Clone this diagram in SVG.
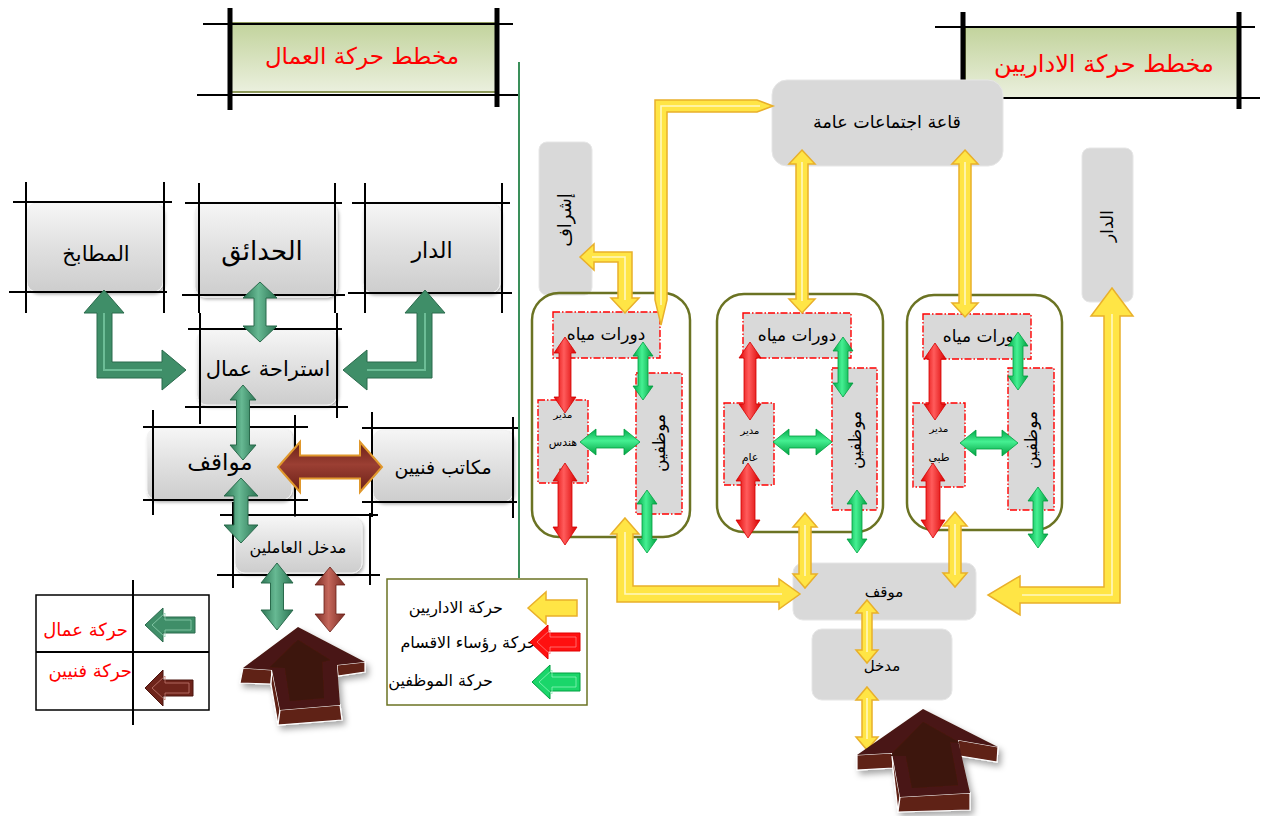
<svg xmlns="http://www.w3.org/2000/svg" width="1263" height="816" viewBox="0 0 1263 816">
<style>
text{font-family:"DejaVu Sans","Noto Sans",sans-serif;fill:#000;}
.red{fill:#ff0000;}
.frame{stroke:#000;stroke-width:2;fill:none;}
.thick{stroke:#000;stroke-width:5;fill:none;}
.gloss{fill:url(#gGloss);stroke:#f2f2f2;stroke-width:1;filter:url(#sh);}
.flat{fill:#d9d9d9;stroke:#e6e6e6;stroke-width:1;}
.cont{fill:none;stroke:#6b7323;stroke-width:2.5;}
.dash{fill:#d9d9d9;stroke:#ff0000;stroke-width:1.4;stroke-dasharray:7 2 1.5 2;}
.dg{fill:url(#gDG);stroke:#2a6a4c;stroke-width:1;}
.dgs{fill:#3f8e68;stroke:#2a6a4c;stroke-width:1;}
.rd{fill:url(#gRed);stroke:#d40000;stroke-width:0.8;}
.gr{fill:url(#gGrn);stroke:#00a040;stroke-width:0.8;}
.grh{fill:url(#gGrnH);stroke:#00a040;stroke-width:0.8;}
.yl{fill:#ffe545;stroke:#e9b02a;stroke-width:1.5;}
.ylc{fill:none;stroke:#fff8c0;stroke-width:1.6;}
.br3{fill:#4a1812;}
.br3s{fill:#5e2219;stroke:#ffffff;stroke-width:1.2;}
</style>
<defs>
<filter id="sh" x="-10%" y="-10%" width="130%" height="140%"><feDropShadow dx="1.5" dy="2" stdDeviation="1.5" flood-color="#000" flood-opacity="0.3"/></filter>
<filter id="sh2" x="-20%" y="-20%" width="150%" height="150%"><feDropShadow dx="3" dy="4" stdDeviation="3" flood-color="#000" flood-opacity="0.35"/></filter>
<linearGradient id="gGloss" x1="0" y1="0" x2="0" y2="1"><stop offset="0" stop-color="#f6f6f6"/><stop offset="0.5" stop-color="#e0e0e0"/><stop offset="1" stop-color="#cdcdcd"/></linearGradient>
<linearGradient id="gTitle" x1="0" y1="0" x2="0" y2="1"><stop offset="0" stop-color="#c2d39c"/><stop offset="1" stop-color="#ebf0de"/></linearGradient>
<linearGradient id="gDG" x1="0" y1="0" x2="1" y2="0"><stop offset="0" stop-color="#2b7453"/><stop offset="0.45" stop-color="#67b993"/><stop offset="1" stop-color="#2b7453"/></linearGradient>
<linearGradient id="gBrH" x1="0" y1="0" x2="0" y2="1"><stop offset="0" stop-color="#6a2017"/><stop offset="0.45" stop-color="#9b3f33"/><stop offset="1" stop-color="#6a2017"/></linearGradient>
<linearGradient id="gBrV" x1="0" y1="0" x2="1" y2="0"><stop offset="0" stop-color="#7a2a22"/><stop offset="0.45" stop-color="#c4675b"/><stop offset="1" stop-color="#7a2a22"/></linearGradient>
<linearGradient id="gRed" x1="0" y1="0" x2="1" y2="0"><stop offset="0" stop-color="#e00000"/><stop offset="0.45" stop-color="#ff5c5c"/><stop offset="1" stop-color="#d80000"/></linearGradient>
<linearGradient id="gGrn" x1="0" y1="0" x2="1" y2="0"><stop offset="0" stop-color="#00a848"/><stop offset="0.45" stop-color="#45f092"/><stop offset="1" stop-color="#00a040"/></linearGradient>
<linearGradient id="gGrnH" x1="0" y1="0" x2="0" y2="1"><stop offset="0" stop-color="#00a848"/><stop offset="0.45" stop-color="#45f092"/><stop offset="1" stop-color="#00a040"/></linearGradient>
</defs>
<rect width="1263" height="816" fill="#ffffff"/>

<!-- divider -->
<line x1="519" y1="62" x2="519" y2="578" stroke="#3a8f5a" stroke-width="2"/>

<!-- LEFT TITLE -->
<g id="title-workers">
<rect x="230" y="23" width="267" height="69" fill="url(#gTitle)" stroke="#6b7a2a" stroke-width="1.5"/>
<path class="frame" d="M203,24 H513 M197,95 H518"/>
<path class="thick" d="M230,8 V110 M497,8 V107"/>
<text class="red" x="362" y="64" font-size="23" text-anchor="middle">مخطط حركة العمال</text>
</g>

<!-- LEFT NODES -->
<g id="node-kitchens">
<rect class="gloss" x="27" y="203" width="136" height="89" rx="10"/>
<path class="frame" d="M13,202 H172 M9,292 H167 M26,182 V313 M164,182 V313"/>
<text x="96" y="261" font-size="21" text-anchor="middle">المطابخ</text>
</g>
<g id="node-gardens">
<rect class="gloss" x="195" y="203" width="142" height="94" rx="10"/>
<path class="frame" d="M185,203 H342 M182,295 H345 M199,183 V313 M335,183 V313"/>
<text x="262" y="260" font-size="26" text-anchor="middle">الحدائق</text>
</g>
<g id="node-house">
<rect class="gloss" x="363" y="203" width="137" height="90" rx="10"/>
<path class="frame" d="M352,203 H510 M348,293 H512 M365,183 V313 M502,183 V313"/>
<text x="432" y="258" font-size="22" text-anchor="middle">الدار</text>
</g>
<g id="node-rest">
<rect class="gloss" x="197" y="330" width="140" height="75" rx="10"/>
<path class="frame" d="M188,329 H342 M185,407 H348 M200,313 V424 M337,313 V418"/>
<text x="268" y="376" font-size="21" text-anchor="middle">استراحة عمال</text>
</g>
<g id="node-parking-left">
<rect class="gloss" x="147" y="428" width="145" height="72" rx="10"/>
<path class="frame" d="M143,427 H308 M143,500 H308 M153,410 V515 M295,415 V518"/>
<text x="220" y="470" font-size="23" text-anchor="middle">مواقف</text>
</g>
<g id="node-tech-offices">
<rect class="gloss" x="373" y="430" width="140" height="72" rx="10"/>
<path class="frame" d="M362,428 H518 M362,502 H517 M372,412 V517 M513,417 V518"/>
<text x="443" y="474" font-size="19" text-anchor="middle">مكاتب فنيين</text>
</g>
<g id="node-workers-entrance">
<rect class="gloss" x="235" y="517" width="127" height="56" rx="10"/>
<path class="frame" d="M220,515 H378 M217,575 H380 M233,502 V588 M370,513 V585"/>
<text x="298" y="553" font-size="16" text-anchor="middle">مدخل العاملين</text>
</g>

<!-- LEFT LEGEND -->
<g id="legend-left">
<rect x="36" y="595" width="173" height="115" fill="#fff" stroke="#000" stroke-width="1.5"/>
<path class="frame" d="M133,580 V725 M36,652 H209" stroke-width="1.5"/>
<text class="red" x="128" y="636" font-size="18" text-anchor="end">حركة عمال</text>
<text class="red" x="132" y="677" font-size="18" text-anchor="end">حركة فنيين</text>
<polygon points="145,625 163,608 163,617 195,617 195,633 163,633 163,642" fill="#3f8e68" stroke="#2a6a4c" stroke-width="1"/>
<polygon points="152,625 165,613 165,620 191,620 191,630 165,630 165,637" fill="none" stroke="#8fd0b0" stroke-width="0.8"/>
<polygon points="145,688 163,670 163,680 193,680 193,696 163,696 163,706" fill="#6e241b" stroke="#4a140f" stroke-width="1"/>
<polygon points="152,688 165,676 165,683 189,683 189,693 165,693 165,700" fill="none" stroke="#c07a70" stroke-width="0.8"/>
</g>

<!-- RIGHT LEGEND -->
<g id="legend-right">
<rect x="387" y="579" width="200" height="126" fill="#fff" stroke="#6b7323" stroke-width="1.5"/>
<text x="503" y="613" font-size="16" text-anchor="end">حركة الاداريين</text>
<text x="537" y="648" font-size="16" text-anchor="end">حركة رؤساء الاقسام</text>
<text x="493" y="686" font-size="16" text-anchor="end">حركة الموظفين</text>
<polygon class="yl" points="528,608 546,592 546,600 577,600 577,616 546,616 546,624"/>
<polygon points="530,642 548,625 548,633 580,633 580,651 548,651 548,659" fill="#ff1010" stroke="#e00000" stroke-width="1"/>
<polygon points="537,642 550,630 550,637 576,637 576,647 550,647 550,654" fill="none" stroke="#ff8080" stroke-width="0.8"/>
<polygon points="532,682 550,665 550,673 580,673 580,691 550,691 550,699" fill="#1ad66a" stroke="#00a040" stroke-width="1"/>
<polygon points="539,682 552,670 552,677 576,677 576,687 552,687 552,694" fill="none" stroke="#8af5b8" stroke-width="0.8"/>
</g>

<!-- RIGHT TITLE -->
<g id="title-admins">
<rect x="965" y="27" width="273" height="71" fill="url(#gTitle)" stroke="#6b7a2a" stroke-width="1.5"/>
<path class="frame" d="M935,27 H1255 M928,98 H1260"/>
<path class="thick" d="M963,12 V110 M1239,12 V109"/>
<text class="red" x="1104" y="72" font-size="24" text-anchor="middle">مخطط حركة الاداريين</text>
</g>

<!-- RIGHT NODES -->
<g id="node-meeting-hall">
<rect class="flat" x="772" y="80" width="231" height="86" rx="15"/>
<text x="887" y="128" font-size="17.5" text-anchor="middle">قاعة اجتماعات عامة</text>
</g>
<g id="node-supervision">
<rect class="flat" x="539" y="142" width="53" height="153" rx="8"/>
<text transform="translate(565,220) rotate(-90)" x="0" y="6" font-size="18" text-anchor="middle">إشراف</text>
</g>
<g id="node-house-right">
<rect class="flat" x="1082" y="148" width="51" height="154" rx="8"/>
<text transform="translate(1107,226) rotate(-90)" x="0" y="6" font-size="17" text-anchor="middle">الدار</text>
</g>

<g id="node-section-1">
<rect class="cont" x="532" y="293" width="158" height="244" rx="27"/>
<rect class="dash" x="553" y="312" width="107" height="46"/>
<text x="606" y="340" font-size="17" text-anchor="middle">دورات مياه</text>
<rect class="dash" x="538" y="400" width="50" height="83"/>
<text x="563" y="418" font-size="10" text-anchor="middle">مدير</text>
<text x="563" y="446" font-size="11" text-anchor="middle">هندس</text>
<text x="563" y="470" font-size="11" text-anchor="middle">ي</text>
<rect class="dash" x="636" y="373" width="46" height="141"/>
<text transform="translate(659,443) rotate(-90)" x="0" y="6" font-size="17" text-anchor="middle">موظفين</text>
</g>
<g id="node-section-2">
<rect class="cont" x="717" y="294" width="166" height="238" rx="27"/>
<rect class="dash" x="743" y="313" width="108" height="45"/>
<text x="797" y="341" font-size="17" text-anchor="middle">دورات مياه</text>
<rect class="dash" x="724" y="403" width="50" height="82"/>
<text x="750" y="434" font-size="10" text-anchor="middle">مدير</text>
<text x="750" y="461" font-size="11" text-anchor="middle">عام</text>
<rect class="dash" x="832" y="368" width="45" height="142"/>
<text transform="translate(855,440) rotate(-90)" x="0" y="6" font-size="17" text-anchor="middle">موظفين</text>
</g>
<g id="node-section-3">
<rect class="cont" x="907" y="295" width="155" height="235" rx="27"/>
<rect class="dash" x="923" y="314" width="108" height="45"/>
<text x="982" y="342" font-size="17" text-anchor="middle">دورات مياه</text>
<rect class="dash" x="913" y="403" width="52" height="84"/>
<text x="939" y="432" font-size="10" text-anchor="middle">مدير</text>
<text x="939" y="461" font-size="11" text-anchor="middle">طبي</text>
<rect class="dash" x="1008" y="368" width="46" height="142"/>
<text transform="translate(1031,440) rotate(-90)" x="0" y="6" font-size="17" text-anchor="middle">موظفين</text>
</g>

<g id="node-parking-right">
<rect class="flat" x="793" y="563" width="183" height="57" rx="10"/>
<text x="884" y="597" font-size="15" text-anchor="middle">موقف</text>
</g>
<g id="node-entrance">
<rect class="flat" x="812" y="629" width="140" height="71" rx="10"/>
<text x="882" y="671" font-size="15" text-anchor="middle">مدخل</text>
</g>

<!-- CONNECTORS -->
<g id="connectors">
<polygon class="dg" points="260,282 277,298 266,298 266,326 277,326 260,342 243,326 254,326 254,298 243,298"/>
<polygon class="dg" points="243,385 256,400 249.5,400 249.5,445 256,445 243,460 230,445 236.5,445 236.5,400 230,400"/>
<polygon class="dg" points="241,478 258,496 248,496 248,525 258,525 241,543 224,525 234,525 234,496 224,496"/>
<polygon class="dg" points="277,563 293,583 283.5,583 283.5,610 293,610 277,630 261,610 270.5,610 270.5,583 261,583"/>
<polygon points="330,567 345,585 336,585 336,614 345,614 330,632 315,614 324,614 324,585 315,585" fill="url(#gBrV)" stroke="#6a2017" stroke-width="0.8"/>
<polygon class="dgs" points="104,290 124,313 112,313 112,362 162,362 162,350 186,370 162,390 162,378 97,378 97,313 84,313"/>
<polyline points="104,313 104,370 162,370" fill="none" stroke="#6cbd96" stroke-width="2"/>
<polygon class="dgs" points="425,290 445,313 432,313 432,378 367,378 367,390 343,370 367,350 367,362 417,362 417,313 405,313"/>
<polyline points="425,313 425,370 367,370" fill="none" stroke="#6cbd96" stroke-width="2"/>
<polygon points="278,467 300,442 300,455.5 360,455.5 360,442 382,467 360,492 360,478.5 300,478.5 300,492" fill="url(#gBrH)" stroke="#e0982c" stroke-width="2"/>

<polygon class="rd" points="565,337 576,353 571,353 571,397 576,397 565,413 554,397 559,397 559,353 554,353"/>
<polygon class="rd" points="565,463 577,481 572,481 572,527 577,527 565,545 553,527 558,527 558,481 553,481"/>
<polygon class="rd" points="750,342 761,358 756,358 756,404 761,404 750,420 739,404 744,404 744,358 739,358"/>
<polygon class="rd" points="748,463 760,481 755,481 755,520 760,520 748,538 736,520 741,520 741,481 736,481"/>
<polygon class="rd" points="935,343 946,359 941,359 941,404 946,404 935,420 924,404 929,404 929,359 924,359"/>
<polygon class="rd" points="933,463 945,481 940,481 940,520 945,520 933,538 921,520 926,520 926,481 921,481"/>

<polygon class="gr" points="643,342 653,356 648,356 648,386 653,386 643,400 633,386 638,386 638,356 633,356"/>
<polygon class="gr" points="647,490 657,504 652,504 652,539 657,539 647,553 637,539 642,539 642,504 637,504"/>
<polygon class="gr" points="843,337 853,351 848,351 848,383 853,383 843,397 833,383 838,383 838,351 833,351"/>
<polygon class="gr" points="857,490 867,504 862,504 862,539 867,539 857,553 847,539 852,539 852,504 847,504"/>
<polygon class="gr" points="1018,332 1028,346 1023,346 1023,376 1028,376 1018,390 1008,376 1013,376 1013,346 1008,346"/>
<polygon class="gr" points="1038,487 1048,501 1043,501 1043,534 1048,534 1038,548 1028,534 1033,534 1033,501 1028,501"/>
<polygon class="grh" points="580,442 596,429 596,436 624,436 624,429 640,442 624,455 624,448 596,448 596,455"/>
<polygon class="grh" points="773,442 789,429 789,436 816,436 816,429 832,442 816,455 816,448 789,448 789,455"/>
<polygon class="grh" points="960,443 976,430 976,437 1002,437 1002,430 1018,443 1002,456 1002,449 976,449 976,456"/>

<polygon class="yl" points="580,257 594,244 594,252 632,252 632,298 639,298 625,313 611,298 618,298 618,262 594,262 594,270"/>
<polyline class="ylc" points="592,257 625,257 625,300"/>
<polygon class="yl" points="655,100 757,100 773,106 757,112 667,112 667,300 661,325 655,300"/>
<polyline class="ylc" points="661,305 661,106 760,106"/>
<polygon class="yl" points="802,150 815,164 808,164 808,299 815,299 802,313 789,299 796,299 796,164 789,164"/>
<line class="ylc" x1="802" y1="162" x2="802" y2="301"/>
<polygon class="yl" points="965,150 978,164 971,164 971,303 978,303 965,317 952,303 959,303 959,164 952,164"/>
<line class="ylc" x1="965" y1="162" x2="965" y2="305"/>
<polygon class="yl" points="805,513 817,527 811,527 811,574 817,574 805,588 793,574 799,574 799,527 793,527"/>
<line class="ylc" x1="805" y1="525" x2="805" y2="576"/>
<polygon class="yl" points="955,512 967,526 961,526 961,573 967,573 955,587 943,573 949,573 949,526 943,526"/>
<line class="ylc" x1="955" y1="524" x2="955" y2="575"/>
<polygon class="yl" points="625,518 639,534 633,534 633,586 779,586 779,579 800,594 779,609 779,602 617,602 617,534 611,534"/>
<polyline class="ylc" points="625,532 625,594 782,594"/>
<polygon class="yl" points="1112,288 1133,316 1120,316 1120,603 1020,603 1020,615 988,595 1020,576 1020,587 1104,587 1104,316 1091,316"/>
<polyline class="ylc" points="1112,314 1112,595 1022,595"/>
<polygon class="yl" points="867,600 878,613 872,613 872,650 878,650 867,663 856,650 862,650 862,613 856,613"/>
<line class="ylc" x1="867" y1="611" x2="867" y2="652"/>
<polygon class="yl" points="867,687 878,700 872,700 872,737 878,737 867,750 856,737 862,737 862,700 856,700"/>
<line class="ylc" x1="867" y1="698" x2="867" y2="739"/>
</g>

<g id="entrance-arrow-left" filter="url(#sh2)">
<polygon class="br3s" points="243,668 272,670 271,684 240,683"/>
<polygon class="br3s" points="272,670 280,710 278,725 271,684"/>
<polygon class="br3s" points="280,710 340,705 342,720 278,725"/>
<polygon class="br3s" points="337,665 365,662 365,672 338,676"/>
<polygon class="br3" points="298,627 365,662 337,665 340,705 280,710 272,670 243,668"/>
<polygon points="298,640 330,660 322,662 324,698 290,701 285,668 270,667" fill="#3e130e"/>
</g>
<g id="entrance-arrow-right" filter="url(#sh2)">
<polygon class="br3s" points="857,755 892,753 893,768 857,770"/>
<polygon class="br3s" points="892,753 900,797 898,812 893,768"/>
<polygon class="br3s" points="900,797 970,793 970,810 898,812"/>
<polygon class="br3s" points="958,740 998,747 997,762 960,756"/>
<polygon class="br3" points="923,709 998,747 958,740 970,793 900,797 892,753 857,755"/>
<polygon points="923,722 960,743 950,742 958,785 912,788 906,756 890,756" fill="#3e130e"/>
</g>
</svg>
